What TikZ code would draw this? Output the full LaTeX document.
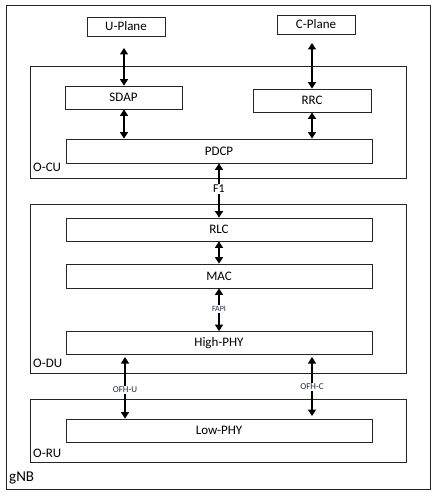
\documentclass[tikz,border=0pt]{standalone}
\usepackage{fontspec}
\setmainfont{Carlito}
\usetikzlibrary{arrows.meta}
\definecolor{edge}{HTML}{262626}
\definecolor{lbl}{HTML}{1F2A44}
\tikzset{
  blk/.style={draw=edge,line width=0.8pt,fill=white,inner sep=0pt,font=\fontsize{13}{15}\selectfont,text=black},
  grp/.style={draw=edge,line width=0.9pt},
  grplbl/.style={anchor=west,font=\fontsize{13}{15}\selectfont,inner sep=0pt},
  arr/.style={line width=1.4pt,{Triangle[length=6.5pt,width=8pt]}-{Triangle[length=6.5pt,width=8pt]}},
  small/.style={fill=white,inner sep=1pt,font=\fontsize{9}{10}\selectfont,text=lbl},
}
\begin{document}
\begin{tikzpicture}[x=1pt,y=-1pt]
\useasboundingbox (0,0) rectangle (435,495);
\fill[white] (0,0) rectangle (435,495);
% outer gNB
\draw[grp] (6,5) rectangle (430,489);
\node[grplbl,font=\fontsize{15}{17}\selectfont] (gnb) at (9,478) {gNB};
% groups
\draw[grp] (30,66) rectangle (406,178);
\node[grplbl] (ocu) at (33,167) {O-CU};
\draw[grp] (30,204) rectangle (406,373);
\node[grplbl] (odu) at (33,363) {O-DU};
\draw[grp] (30,399) rectangle (406,462);
\node[grplbl] (oru) at (33,453) {O-RU};
% blocks
\node[blk,minimum width=78pt,minimum height=19pt] (up) at (126,26.5) {U-Plane};
\node[blk,minimum width=78pt,minimum height=19pt] (cp) at (316,24.5) {C-Plane};
\node[blk,minimum width=117pt,minimum height=23pt] (sdap) at (123.5,97.5) {SDAP};
\node[blk,minimum width=118pt,minimum height=23pt] (rrc) at (312,100.5) {RRC};
\node[blk,minimum width=306pt,minimum height=24pt] (pdcp) at (219,151) {PDCP};
\node[blk,minimum width=306pt,minimum height=23pt] (rlc) at (219,229.5) {RLC};
\node[blk,minimum width=306pt,minimum height=24pt] (mac) at (219,276) {MAC};
\node[blk,minimum width=306pt,minimum height=23pt] (hphy) at (219,343) {High-PHY};
\node[blk,minimum width=306pt,minimum height=23pt] (lphy) at (219,430.5) {Low-PHY};
% free ends
\coordinate (upend) at (124,48);
\coordinate (cpend) at (312,43);
\coordinate (ofhutop) at (125,357);
\coordinate (ofhctop) at (312,357);
\coordinate (ofhcbot) at (312,416);
% connectors
\draw[arr] (upend) -- (sdap.north -| upend);
\draw[arr] (cpend) -- (rrc.north -| cpend);
\draw[arr] (sdap.south -| 124,0) -- (pdcp.north -| 124,0);
\draw[arr] (rrc.south -| 312,0) -- (pdcp.north -| 312,0);
\draw[arr] (pdcp.south) -- (rlc.north);
\node[fill=white,inner sep=1pt,font=\fontsize{12}{14}\selectfont] (f1) at (219,189) {F1};
\draw[arr] (rlc.south) -- (mac.north);
\draw[arr] (mac.south) -- (hphy.north);
\node[small,font=\fontsize{8}{9}\selectfont] (fapi) at (219,309) {FAPI};
\draw[arr] (ofhutop) -- (lphy.north -| ofhutop);
\node[small] (ofhu) at (125,390) {OFH-U};
\draw[arr] (ofhctop) -- (ofhcbot);
\node[small] (ofhc) at (312,387) {OFH-C};
\end{tikzpicture}
\end{document}
